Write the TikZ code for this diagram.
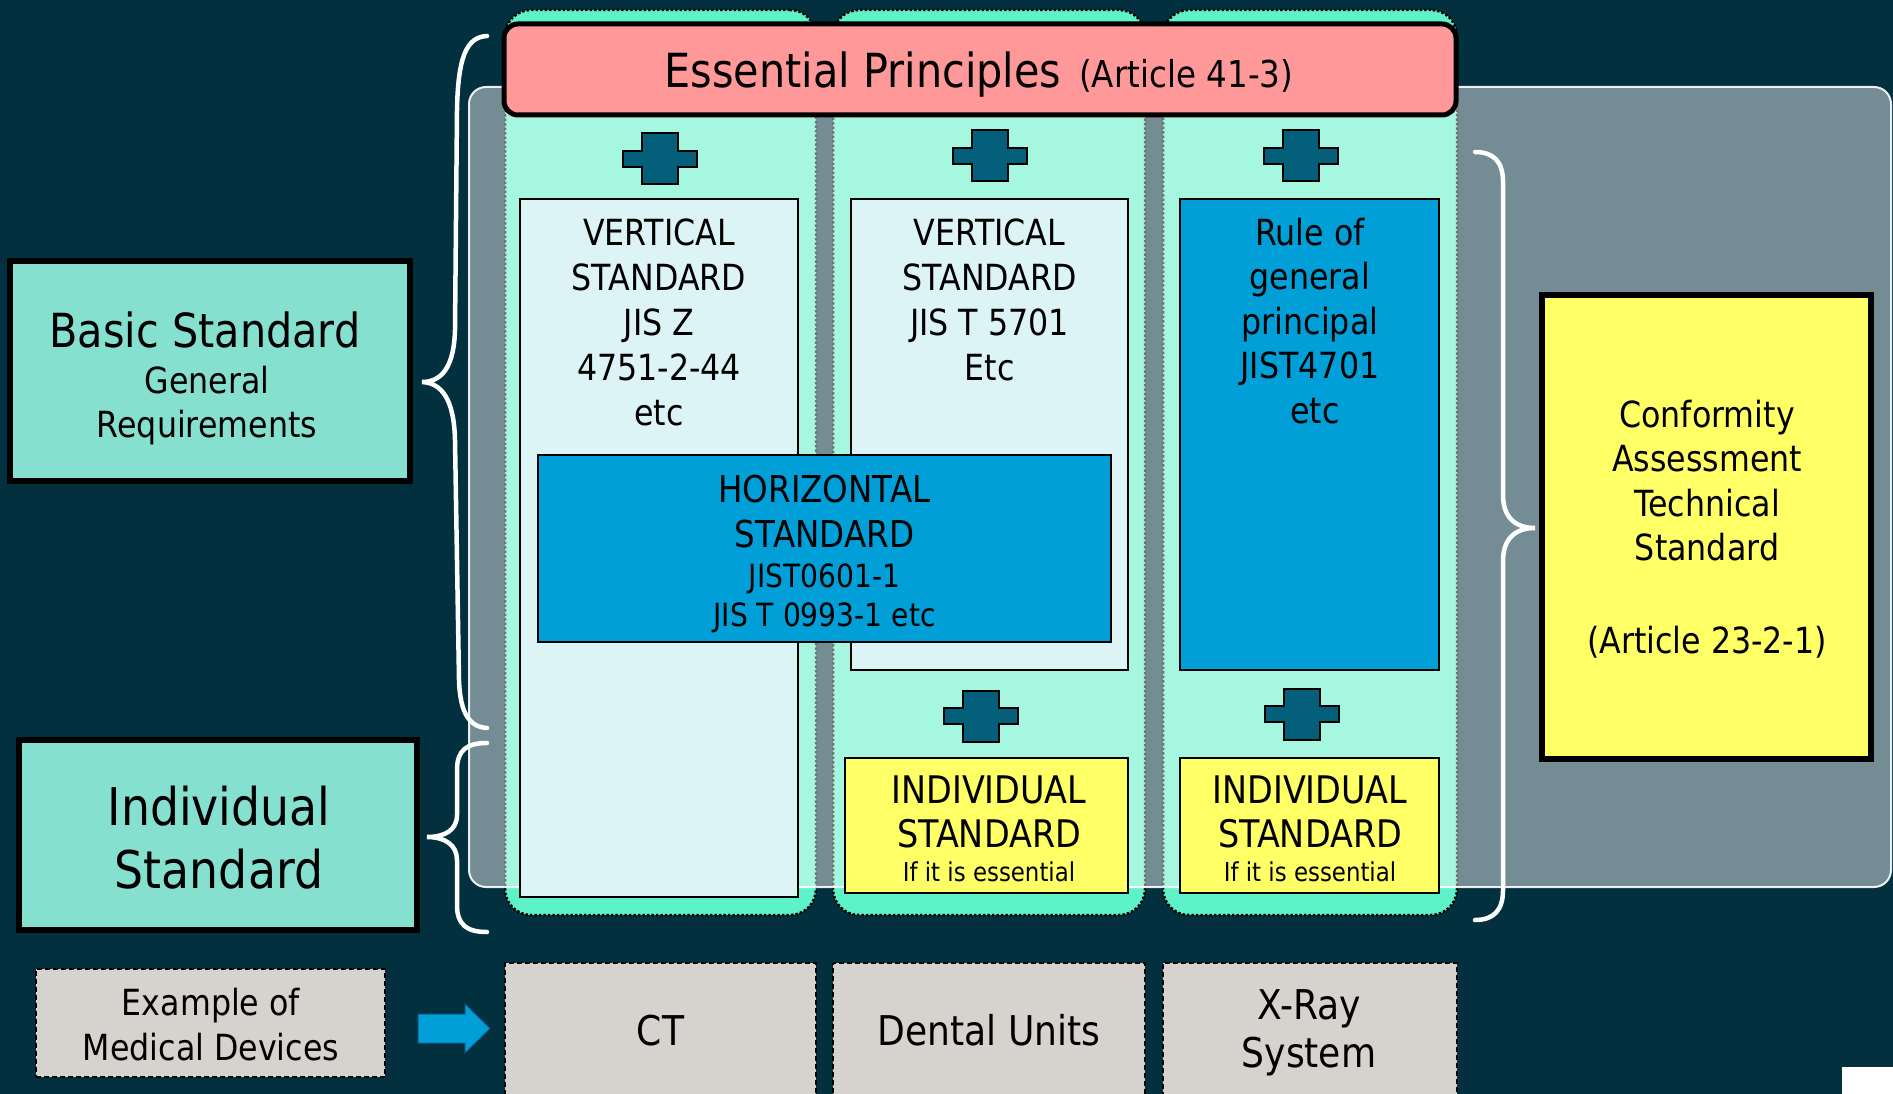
\documentclass[tikz,border=0pt]{standalone}
\usepackage{fontspec}
\setmainfont[FakeStretch=0.88]{DejaVu Sans}
\newcommand\fsz[2]{\fontsize{#1}{#2}\selectfont}
\definecolor{bgdark}{HTML}{02303F}
\definecolor{mint}{HTML}{5EF2C8}
\definecolor{tealbox}{HTML}{86E0D0}
\definecolor{salmon}{HTML}{FF9999}
\definecolor{icecyan}{HTML}{DDF4F7}
\definecolor{stdblue}{HTML}{009FD8}
\definecolor{lemon}{HTML}{FFFF66}
\definecolor{plusteal}{HTML}{04607A}
\definecolor{devgray}{HTML}{D6D2CE}
\definecolor{arrowedge}{HTML}{0B5C8C}

\tikzset{
  plussign/.pic={
    \draw[draw=black, line width=2pt, fill=plusteal]
      (-18,-25.5) -- (18,-25.5) -- (18,-8) -- (37,-8) -- (37,8) -- (18,8)
      -- (18,25.5) -- (-18,25.5) -- (-18,8) -- (-37,8) -- (-37,-8) -- (-18,-8) -- cycle;
  }
}

\begin{document}
\begin{tikzpicture}[x=1pt,y=-1pt,
  every node/.style={inner sep=0pt, outer sep=0pt},
  column/.style={draw=black, line width=2.5pt, dash pattern=on 2.5pt off 2pt,
                 fill=mint, rounded corners=26pt, minimum height=905pt},
  panel/.style={draw=white, line width=2pt, draw opacity=0.9, fill=white,
                fill opacity=0.45, rounded corners=17pt},
  stdbox/.style={draw=black, line width=2pt},
  sidebox/.style={draw=black, line width=6pt, fill=tealbox},
  devbox/.style={draw=black, line width=1.5pt, dash pattern=on 5pt off 3pt, fill=devgray},
  brace/.style={draw=white, line width=4.5pt, line cap=round},
  % multi-line labels are placed by the baseline of their last line
  lbl/.style={align=center, anchor=base, text=black}
]
\useasboundingbox (0,0) rectangle (1893,1094);
\clip (0,0) rectangle (1893,1094);
\fill[bgdark] (0,0) rectangle (1893,1094);

% three device columns
\node[column, minimum width=311pt] (col1) at (660.5,462.5) {};
\node[column, minimum width=312pt] (col2) at (989,462.5) {};
\node[column, minimum width=294pt] (col3) at (1310,462.5) {};

% translucent panel of the conformity scope
\node[panel, minimum width=1422pt, minimum height=800pt] (panel) at (1180,487) {};

% standards inside the columns
\node[stdbox, fill=icecyan, minimum width=278pt, minimum height=698pt] (vert1) at (659,548) {};
\node[stdbox, fill=icecyan, minimum width=277pt, minimum height=471pt] (vert2) at (989.5,434.5) {};
\node[stdbox, fill=stdblue, minimum width=259pt, minimum height=471pt] (rule) at (1309.5,434.5) {};
\node[stdbox, fill=stdblue, minimum width=573pt, minimum height=187pt] (horiz) at (824.5,548.5) {};
\node[stdbox, fill=lemon, minimum width=283pt, minimum height=135pt] (ind2) at (986.5,825.5) {};
\node[stdbox, fill=lemon, minimum width=259pt, minimum height=135pt] (ind3) at (1309.5,825.5) {};

\node[lbl, font=\fsz{36}{45}] (vert1t) at (659,425)
  {VERTICAL\\STANDARD\\JIS Z\\4751-2-44\\etc};
\node[lbl, font=\fsz{36}{45}] (vert2t) at (989.5,380)
  {VERTICAL\\STANDARD\\JIS T 5701\\Etc};
\node[lbl, font=\fsz{36}{44.5}] (rulet) at (1310,423)
  {Rule of\\general\\principal\\JIST4701\\\hspace*{10pt}etc};
\node[lbl, font=\fsz{37}{45}] (horizt) at (824.5,547) {HORIZONTAL\\STANDARD};
\node[lbl, font=\fsz{32}{39}] (horizc) at (824.5,626) {JIST0601-1\\JIS T 0993-1 etc};
\node[lbl, font=\fsz{38}{44}] (ind2t) at (989,847) {INDIVIDUAL\\STANDARD};
\node[lbl, font=\fsz{26}{30}] (ind2s) at (989,881) {If it is essential};
\node[lbl, font=\fsz{38}{44}] (ind3t) at (1310,847) {INDIVIDUAL\\STANDARD};
\node[lbl, font=\fsz{26}{30}] (ind3s) at (1310,881) {If it is essential};

% plus signs
\pic at (660,159) {plussign};
\pic at (990,156) {plussign};
\pic at (1301,156) {plussign};
\pic at (981,716) {plussign};
\pic at (1302,714) {plussign};

% essential principles banner
\node[draw=black, line width=5pt, fill=salmon, rounded corners=14pt,
      minimum width=952pt, minimum height=91pt] (ep) at (980,69.5) {};
\node[lbl] (ept) at (979,88)
  {\fsz{47}{50}Essential Principles\hspace{18pt}\fsz{37}{40}(Article 41-3)};

% conformity assessment box
\node[draw=black, line width=6pt, fill=lemon, minimum width=329pt, minimum height=464pt] (conf) at (1706.5,527) {};
\node[lbl, font=\fsz{36}{44.5}] (conft) at (1707,560.5)
  {Conformity\\Assessment\\Technical\\Standard};
\node[lbl, font=\fsz{36}{40}] (confa) at (1707,653) {(Article 23-2-1)};

% left-hand categories
\node[sidebox, minimum width=400pt, minimum height=220pt] (basic) at (210,371) {};
\node[lbl, font=\fsz{47}{50}] (basict) at (205,347) {Basic Standard};
\node[lbl, font=\fsz{36}{44}] (basics) at (207,437) {General\\Requirements};
\node[sidebox, minimum width=398pt, minimum height=190pt] (indiv) at (218,835) {};
\node[lbl, font=\fsz{52}{63}] (indivt) at (219,888) {Individual\\Standard};

% braces
\draw[brace] (487,36) .. controls (466,37) and (458,58) .. (457,110)
  -- (455,330) .. controls (454,368) and (441,382) .. (422,382)
  .. controls (441,383) and (454,398) .. (455,440)
  -- (459,680) .. controls (460,714) and (470,727) .. (487,728);
\draw[brace] (487,743) .. controls (467,743) and (457,750) .. (457,770)
  -- (457,815) .. controls (457,830) and (445,837) .. (427,837)
  .. controls (445,837) and (457,845) .. (457,860)
  -- (457,905) .. controls (457,925) and (467,932) .. (487,932);
\draw[brace] (1475,152) .. controls (1494,152) and (1503,162) .. (1503,182)
  -- (1503,495) .. controls (1503,517) and (1515,528) .. (1535,528)
  .. controls (1515,528) and (1503,539) .. (1503,561)
  -- (1503,890) .. controls (1503,910) and (1494,920) .. (1475,920);

% example devices
\node[devbox, minimum width=349pt, minimum height=108pt] (example) at (210.5,1023) {};
\node[lbl, font=\fsz{36}{45}] (examplet) at (211,1060) {Example of\\Medical Devices};
\node[devbox, minimum width=311pt, minimum height=147pt] (ct) at (660.5,1036.5) {};
\node[devbox, minimum width=312pt, minimum height=147pt] (dental) at (989,1036.5) {};
\node[devbox, minimum width=294pt, minimum height=147pt] (xray) at (1310,1036.5) {};
\node[lbl, font=\fsz{41}{42}] (ctt) at (660.5,1045) {CT};
\node[lbl, font=\fsz{41}{42}] (dentalt) at (989,1045) {Dental Units};
\node[lbl, font=\fsz{41}{48}] (xrayt) at (1309,1067) {X-Ray\\System};

% block arrow pointing to the devices
\draw[fill=stdblue, draw=arrowedge, line width=1pt]
  (418,1014) -- (465,1014) -- (465,1004) -- (490,1028.5) -- (465,1053)
  -- (465,1043) -- (418,1043) -- cycle;

% corner patch
\fill[white] (1842,1067) rectangle (1893,1094);
\end{tikzpicture}
\end{document}
